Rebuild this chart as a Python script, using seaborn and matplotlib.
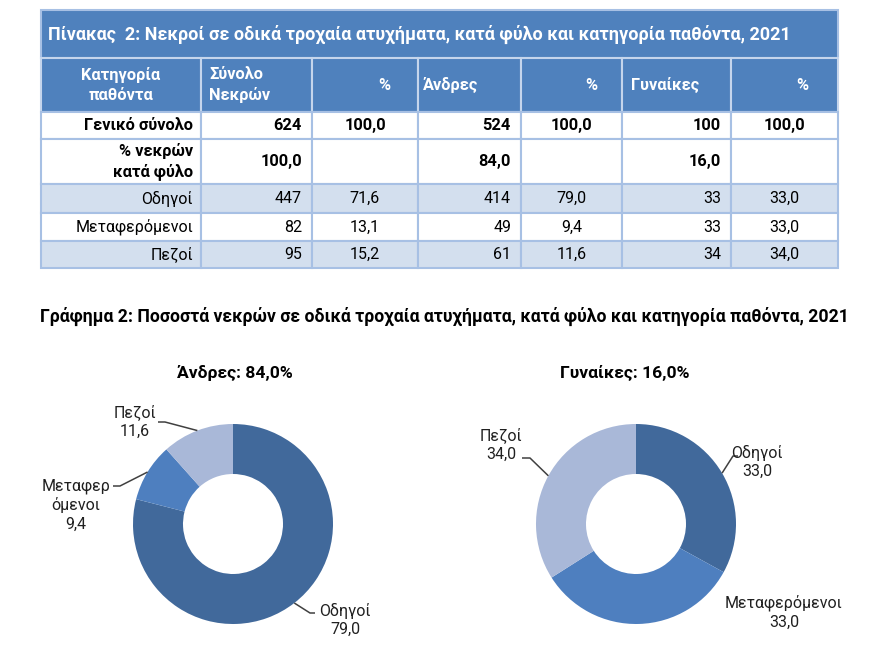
import numpy as np
import pandas as pd
import seaborn as sns
import matplotlib.pyplot as plt
from matplotlib.patches import Rectangle

sns.set_theme(style="white")
plt.rcParams['font.family'] = ['Roboto', 'DejaVu Sans']

# Data
categories = ['Οδηγοί', 'Μεταφερόμενοι', 'Πεζοί']
total = [447, 82, 95]
total_pct = [71.6, 13.1, 15.2]
men = [414, 49, 61]
men_pct = [79.0, 9.4, 11.6]
women = [33, 33, 34]
women_pct = [33.0, 33.0, 34.0]
grand_total = [624, 524, 100]
sex_share = [100.0, 84.0, 16.0]

men_labels = ['Οδηγοί', 'Μεταφερ\nόμενοι', 'Πεζοί']
women_labels = ['Οδηγοί', 'Μεταφερόμενοι', 'Πεζοί']

table_title = 'Πίνακας  2: Νεκροί σε οδικά τροχαία ατυχήματα, κατά φύλο και κατηγορία παθόντα, 2021'
header = ['Κατηγορία\nπαθόντα', 'Σύνολο\nΝεκρών', '%', 'Άνδρες', '%', 'Γυναίκες', '%']
chart_title = 'Γράφημα 2: Ποσοστά νεκρών σε οδικά τροχαία ατυχήματα, κατά φύλο και κατηγορία παθόντα, 2021'
men_title = 'Άνδρες: 84,0%'
women_title = 'Γυναίκες: 16,0%'

HEAD = '#4F81BD'
SHADE = '#D3DFEE'
GRID = '#A7C0E4'
pie_colors = sns.color_palette(['#41699B', '#4E7FBF', '#A9B8D8'])

FS_BOLD = 11.8
FS_REG = 11.5


def fmt(v):
    if v is None:
        return ''
    if isinstance(v, float):
        return f'{v:.1f}'.replace('.', ',')
    return str(v)


fig = plt.figure(figsize=(8.92, 6.70), dpi=100)
canvas = fig.add_axes([0, 0, 1, 1])
canvas.set_xlim(0, 892)
canvas.set_ylim(670, 0)
canvas.axis('off')

# table layout
col_x = [41, 201, 312, 418, 521, 622, 731, 838]
row_y = [10, 58, 112, 139, 184, 213, 241, 268]

canvas.add_patch(Rectangle((col_x[0], row_y[0]), col_x[-1] - col_x[0], row_y[1] - row_y[0],
                           fc=HEAD, ec=GRID, lw=1.5))
canvas.text(48, (row_y[0] + row_y[1]) / 2, table_title, color='white', fontsize=13,
            fontweight='bold', ha='left', va='center')

# header row
h_align = [('center', 0), ('left', 8), ('right', -28), ('left', 5), ('right', -25), ('left', 9), ('right', -30)]
for j, txt in enumerate(header):
    x0, x1 = col_x[j], col_x[j + 1]
    canvas.add_patch(Rectangle((x0, row_y[1]), x1 - x0, row_y[2] - row_y[1], fc=HEAD, ec='#C5D5EC', lw=1.5))
    ha, off = h_align[j]
    if ha == 'center':
        x = (x0 + x1) / 2
    elif ha == 'left':
        x = x0 + off
    else:
        x = x1 + off
    canvas.text(x, (row_y[1] + row_y[2]) / 2, txt, color='white', fontsize=FS_BOLD, fontweight='bold',
                ha=ha, va='center', linespacing=1.35)

# body rows
body = [('Γενικό σύνολο', [grand_total[0], 100.0, grand_total[1], 100.0, grand_total[2], 100.0], True, 'white'),
        ('% νεκρών\nκατά φύλο', [sex_share[0], None, sex_share[1], None, sex_share[2], None], True, 'white')]
for i, c in enumerate(categories):
    body.append((c, [total[i], total_pct[i], men[i], men_pct[i], women[i], women_pct[i]],
                 False, SHADE if i % 2 == 0 else 'white'))

for r, (name, vals, bold, fc) in enumerate(body):
    y0, y1 = row_y[r + 2], row_y[r + 3]
    yc = (y0 + y1) / 2
    w = 'bold' if bold else 'normal'
    fs = FS_BOLD if bold else FS_REG
    cells = [name] + [fmt(v) for v in vals]
    for j, txt in enumerate(cells):
        x0, x1 = col_x[j], col_x[j + 1]
        canvas.add_patch(Rectangle((x0, y0), x1 - x0, y1 - y0, fc=fc, ec=GRID, lw=1.5))
        if j == 0:
            canvas.text(x1 - 8, yc, txt, ha='right', va='center', fontsize=fs, fontweight=w,
                        color='black', linespacing=1.3)
        elif j % 2 == 1:
            canvas.text(x1 - 10, yc, txt, ha='right', va='center', fontsize=fs, fontweight=w, color='black')
        else:
            canvas.text((x0 + x1) / 2, yc, txt, ha='center', va='center', fontsize=fs, fontweight=w,
                        color='black')

canvas.text(40, 316, chart_title, ha='left', va='center', fontsize=12.7, fontweight='bold', color='black')


def donut(cx, cy, values, labels, title, tx, text_pos, leaders):
    ax = fig.add_axes([(cx - 150) / 892, 1 - (cy + 150) / 670, 300 / 892, 300 / 670])
    ax.pie(values, radius=1, startangle=90, counterclock=False, colors=pie_colors,
           wedgeprops=dict(width=0.5, linewidth=0))
    ax.set_xlim(-1.5, 1.5)
    ax.set_ylim(-1.5, 1.5)
    ax.axis('off')
    canvas.text(tx, 373, title, ha='center', va='center', fontsize=12.6, fontweight='bold', color='black')
    cum = np.cumsum([0] + list(values))
    tot = cum[-1]
    for i, v in enumerate(values):
        mid = np.deg2rad(90 - 360 * (cum[i] + cum[i + 1]) / 2 / tot)
        ex, ey = np.cos(mid), np.sin(mid)
        if leaders[i] is not None:
            pts = [(ex, ey)] + leaders[i]
            ax.plot([p[0] for p in pts], [p[1] for p in pts], color='#404040', lw=1.1,
                    solid_capstyle='butt', clip_on=False)
        px, py = text_pos[i]
        ax.text(px, py, f'{labels[i]}\n{fmt(v)}', ha='center', va='center', fontsize=FS_REG,
                color='#202020', linespacing=1.3, clip_on=False)


donut(233, 524, men_pct, men_labels, men_title, 235,
      [(1.12, -0.96), (-1.57, 0.19), (-0.98, 1.02)],
      [[(0.77, -0.89), (0.82, -0.89)], [(-1.13, 0.38), (-1.20, 0.38)], [(-0.68, 1.02), (-0.75, 1.02)]])

donut(636, 524, women_pct, women_labels, women_title, 625,
      [(1.21, 0.62), (1.48, -0.88), (-1.35, 0.79)],
      [[(0.97, 0.68), (1.02, 0.68)], None, [(-1.06, 0.66), (-1.14, 0.66)]])

fig.savefig('out.png', dpi=100)
